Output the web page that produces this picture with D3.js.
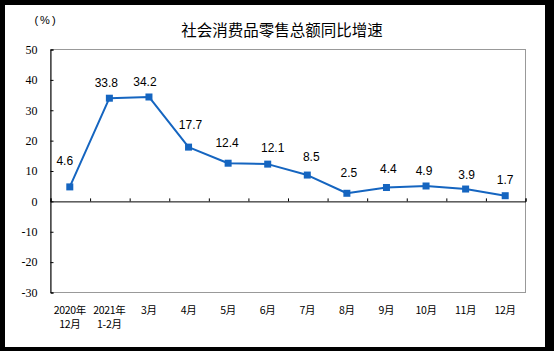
<!DOCTYPE html>
<html>
<head>
<meta charset="utf-8">
<script src="https://cdn.jsdelivr.net/npm/d3@7"></script>
<style>
  body { margin: 0; background: #000; }
  svg { display: block; }
</style>
</head>
<body>
<div id="chart"></div>
<script>
var width = 554;
var height = 351;

// data
var months = ["2020年|12月", "2021年|1-2月", "3月", "4月", "5月", "6月", "7月", "8月", "9月", "10月", "11月", "12月"];
var growth = [4.6, 33.8, 34.2, 17.7, 12.4, 12.1, 8.5, 2.5, 4.4, 4.9, 3.9, 1.7];
var yTicks = [-30, -20, -10, 0, 10, 20, 30, 40, 50];

// label nudges (dx, dy from the marker)
var labelNudge = [[-5, -22], [-3, -11], [-4, -11], [2, -18], [-1, -16], [5, -12],
                  [4, -14], [2, -16], [2, -15], [-2, -11], [1, -10], [0, -12]];

var margin = { left: 50, top: 49, right: 29, bottom: 59 };
var blue = "#1565c0";

var svg = d3.select("#chart")
            .append("svg")
            .attr("width", width)
            .attr("height", height);

// white panel inside the black frame
svg.append("rect")
   .attr("x", 5).attr("y", 5)
   .attr("width", 540).attr("height", 342)
   .attr("fill", "#fff");

var xScale = d3.scaleBand()
               .domain(d3.range(months.length))
               .range([margin.left, width - margin.right]);
var xEdge = d3.scaleLinear()
              .domain([0, months.length])
              .range([margin.left, width - margin.right]);
var yScale = d3.scaleLinear()
               .domain([-30, 50])
               .range([height - margin.bottom, margin.top]);

// plot area border
svg.append("rect")
   .attr("x", xEdge(0) + 0.5)
   .attr("y", yScale(50) + 0.5)
   .attr("width", xEdge(12) - xEdge(0))
   .attr("height", yScale(-30) - yScale(50))
   .attr("fill", "none")
   .attr("stroke", "#999");

// y axis
var yAxis = d3.axisLeft(yScale)
              .tickValues(yTicks)
              .tickSize(-3)
              .tickPadding(13)
              .tickFormat(function(d) { return String(d); });
var gy = svg.append("g")
   .attr("transform", "translate(" + (xEdge(0) + 0.5) + ",0.5)")
   .call(yAxis);
gy.select(".domain").attr("stroke", "#000");
gy.selectAll("line").attr("stroke", "#000");
gy.selectAll("text")
  .attr("font-family", "'Liberation Serif', serif")
  .attr("font-size", 12)
  .attr("fill", "#000");

// x axis at zero
var xAxis = d3.axisBottom(xEdge)
              .tickValues(d3.range(months.length + 1))
              .tickSize(-3)
              .tickFormat("");
var gx = svg.append("g")
   .attr("transform", "translate(0.5," + (yScale(0) + 0.5) + ")")
   .call(xAxis);
gx.select(".domain").attr("stroke", "#000");
gx.selectAll("line").attr("stroke", "#000");

// category labels under the plot
var catText = svg.append("g").selectAll("text")
   .data(months)
   .enter()
   .append("text")
   .attr("text-anchor", "middle")
   .attr("font-family", "'Noto Sans CJK SC', sans-serif")
   .attr("font-size", 10.5)
   .attr("letter-spacing", -0.3)
   .attr("fill", "#000");
catText.each(function(d, i) {
  var parts = d.split("|");
  var t = d3.select(this);
  parts.forEach(function(p, j) {
    t.append("tspan")
     .attr("x", xScale(i) + xScale.bandwidth() / 2)
     .attr("y", 314 + j * 14)
     .text(p);
  });
});

// line
var line = d3.line()
             .x(function(d, i) { return xScale(i) + xScale.bandwidth() / 2; })
             .y(function(d) { return yScale(d); });
svg.append("path")
   .datum(growth)
   .attr("d", line)
   .attr("fill", "none")
   .attr("stroke", blue)
   .attr("stroke-width", 2)
   .attr("stroke-linejoin", "round");

// markers
svg.selectAll(".mark")
   .data(growth)
   .enter()
   .append("rect")
   .attr("class", "mark")
   .attr("x", function(d, i) { return xScale(i) + xScale.bandwidth() / 2 - 3.5; })
   .attr("y", function(d) { return yScale(d) - 3.5; })
   .attr("width", 7)
   .attr("height", 7)
   .attr("fill", blue);

// value labels
svg.selectAll(".val")
   .data(growth)
   .enter()
   .append("text")
   .attr("class", "val")
   .attr("text-anchor", "middle")
   .attr("font-family", "'Liberation Sans', Arial, sans-serif")
   .attr("font-size", 12)
   .attr("fill", "#000")
   .attr("x", function(d, i) { return xScale(i) + xScale.bandwidth() / 2 + labelNudge[i][0]; })
   .attr("y", function(d, i) { return yScale(d) + labelNudge[i][1]; })
   .text(function(d) { return d.toFixed(1); });

// title and unit
svg.append("text")
   .attr("x", 282)
   .attr("y", 36)
   .attr("text-anchor", "middle")
   .attr("font-family", "'Noto Sans CJK SC', sans-serif")
   .attr("font-size", 15.5)
   .attr("fill", "#000")
   .text("社会消费品零售总额同比增速");
svg.append("text")
   .attr("x", 46)
   .attr("y", 24)
   .attr("text-anchor", "middle")
   .attr("font-family", "'Liberation Sans', sans-serif")
   .attr("font-size", 11)
   .attr("letter-spacing", 2)
   .attr("fill", "#000")
   .text("(%)");
</script>
</body>
</html>
